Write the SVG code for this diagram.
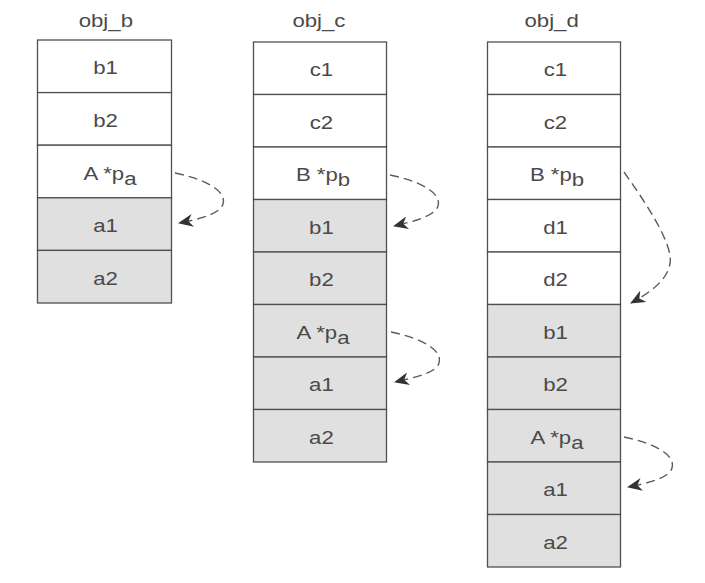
<svg xmlns="http://www.w3.org/2000/svg" width="705" height="583" viewBox="0 0 705 583">
<style>
.w{fill:#ffffff;stroke:#505050;stroke-width:1.3}
.g{fill:#e0e0e0;stroke:#505050;stroke-width:1.3}
text{font-family:"Liberation Sans",Arial,sans-serif;font-size:18.5px;fill:#4a4a4a;text-anchor:middle}
.c{fill:none;stroke:#5a5a5a;stroke-width:1.4;stroke-dasharray:9 5}
</style>
<defs>
<marker id="ah" viewBox="0 0 15 13" refX="14" refY="6.5" markerWidth="15" markerHeight="13" markerUnits="userSpaceOnUse" orient="auto">
<path d="M15,6.5 L0,0 L4.5,6.5 L0,13 Z" fill="#333333"/>
</marker>
</defs>
<rect width="705" height="583" fill="#ffffff"/>

<g id="obj_b">
<text transform="scale(1.2,1)" x="88.2" y="27">obj_b</text>
<rect class="w" x="37.5" y="40" width="134" height="52.6"/>
<rect class="w" x="37.5" y="92.6" width="134" height="52.6"/>
<rect class="w" x="37.5" y="145.2" width="134" height="52.6"/>
<rect class="g" x="37.5" y="197.8" width="134" height="52.6"/>
<rect class="g" x="37.5" y="250.4" width="134" height="52.6"/>
<text transform="scale(1.2,1)" x="87.9" y="74.5">b1</text>
<text transform="scale(1.2,1)" x="87.9" y="127.1">b2</text>
<text transform="scale(1.2,1)" x="91.7" y="180">A *p<tspan dy="5">a</tspan></text>
<text transform="scale(1.2,1)" x="87.9" y="232.3">a1</text>
<text transform="scale(1.2,1)" x="87.9" y="284.9">a2</text>
</g>

<g id="obj_c">
<text transform="scale(1.2,1)" x="265.8" y="27">obj_c</text>
<rect class="w" x="253.5" y="42" width="133" height="52.5"/>
<rect class="w" x="253.5" y="94.5" width="133" height="52.5"/>
<rect class="w" x="253.5" y="147" width="133" height="52.5"/>
<rect class="g" x="253.5" y="199.5" width="133" height="52.5"/>
<rect class="g" x="253.5" y="252" width="133" height="52.5"/>
<rect class="g" x="253.5" y="304.5" width="133" height="52.5"/>
<rect class="g" x="253.5" y="357" width="133" height="52.5"/>
<rect class="g" x="253.5" y="409.5" width="133" height="52.5"/>
<text transform="scale(1.2,1)" x="267.9" y="76.5">c1</text>
<text transform="scale(1.2,1)" x="267.9" y="129">c2</text>
<text transform="scale(1.2,1)" x="269.2" y="181.5">B *p<tspan dy="5">b</tspan></text>
<text transform="scale(1.2,1)" x="267.9" y="234">b1</text>
<text transform="scale(1.2,1)" x="267.9" y="286.5">b2</text>
<text transform="scale(1.2,1)" x="269.2" y="339">A *p<tspan dy="5">a</tspan></text>
<text transform="scale(1.2,1)" x="267.9" y="391.5">a1</text>
<text transform="scale(1.2,1)" x="267.9" y="444">a2</text>
</g>

<g id="obj_d">
<text transform="scale(1.2,1)" x="459.7" y="27">obj_d</text>
<rect class="w" x="487.5" y="42" width="133" height="52.5"/>
<rect class="w" x="487.5" y="94.5" width="133" height="52.5"/>
<rect class="w" x="487.5" y="147" width="133" height="52.5"/>
<rect class="w" x="487.5" y="199.5" width="133" height="52.5"/>
<rect class="w" x="487.5" y="252" width="133" height="52.5"/>
<rect class="g" x="487.5" y="304.5" width="133" height="52.5"/>
<rect class="g" x="487.5" y="357" width="133" height="52.5"/>
<rect class="g" x="487.5" y="409.5" width="133" height="52.5"/>
<rect class="g" x="487.5" y="462" width="133" height="52.5"/>
<rect class="g" x="487.5" y="514.5" width="133" height="52.5"/>
<text transform="scale(1.2,1)" x="462.9" y="76.5">c1</text>
<text transform="scale(1.2,1)" x="462.9" y="129">c2</text>
<text transform="scale(1.2,1)" x="464.2" y="181.5">B *p<tspan dy="5">b</tspan></text>
<text transform="scale(1.2,1)" x="462.9" y="234">d1</text>
<text transform="scale(1.2,1)" x="462.9" y="286.5">d2</text>
<text transform="scale(1.2,1)" x="462.9" y="339">b1</text>
<text transform="scale(1.2,1)" x="462.9" y="391.5">b2</text>
<text transform="scale(1.2,1)" x="464.2" y="444">A *p<tspan dy="5">a</tspan></text>
<text transform="scale(1.2,1)" x="462.9" y="496.5">a1</text>
<text transform="scale(1.2,1)" x="462.9" y="549">a2</text>
</g>

<g id="connectors">
<path class="c" marker-end="url(#ah)" d="M175,173 C205,179 227,191 223,204 C220,214 200,219 179,223"/>
<path class="c" marker-end="url(#ah)" d="M390,175 C420,181 442,193 438,206 C435,216 415,221 394,226"/>
<path class="c" marker-end="url(#ah)" d="M391,332 C421,338 443,350 439,363 C436,373 416,377 395,382"/>
<path class="c" marker-end="url(#ah)" d="M624,172 C640,195 665,230 670,255 C673,275 655,290 631,303"/>
<path class="c" marker-end="url(#ah)" d="M624,437 C654,443 676,455 672,468 C669,478 649,483 628,487"/>
</g>
</svg>
